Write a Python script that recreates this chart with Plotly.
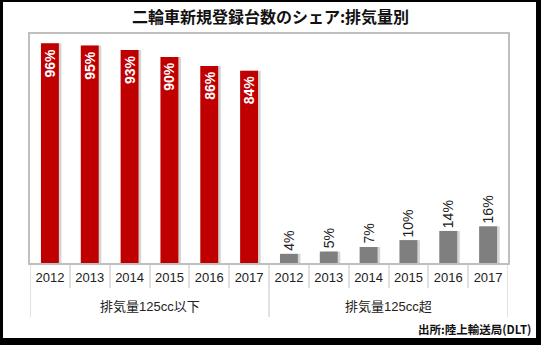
import plotly.graph_objects as go

years = ["2012", "2013", "2014", "2015", "2016", "2017"]
groups = ["排気量125cc以下", "排気量125cc超"]
share_small = [96, 95, 93, 90, 86, 84]
share_large = [4, 5, 7, 10, 14, 16]

title_text = "二輪車新規登録台数のシェア:排気量別"
source_text = "出所:陸上輸送局(DLT)"

W, H = 541, 345
ML, MR, MT, MB = 30, 33, 34, 82
PW, PH = W - ML - MR, H - MT - MB

def px_x(x):
    return (x - ML) / PW

def px_y(y):
    return 1 - (y - MT) / PH

FONT = "Liberation Sans, Arial, Noto Sans CJK JP, sans-serif"
JFONT = "Noto Sans CJK JP, Liberation Sans, sans-serif"

n = len(years)
pos_small = list(range(n))
pos_large = list(range(n, 2 * n))
all_pos = pos_small + pos_large
tick_text = years + years

BW = 0.45
SH = 0.065

fig = go.Figure()
# shadows
for xs, vals in [(pos_small, share_small), (pos_large, share_large)]:
    fig.add_trace(go.Bar(
        x=xs, y=vals, width=BW, offset=-BW / 2 + SH,
        marker=dict(color="#d4d4d4", line=dict(width=0)),
        hoverinfo="skip", showlegend=False,
    ))

fig.add_trace(go.Bar(
    x=pos_small, y=share_small, width=BW, offset=-BW / 2,
    marker=dict(color="#c00000", line=dict(width=0)),
    showlegend=False,
))
fig.add_trace(go.Bar(
    x=pos_large, y=share_large, width=BW, offset=-BW / 2,
    marker=dict(color="#7f7f7f", line=dict(width=0)),
    showlegend=False,
))

annotations = []
for xi, v in zip(pos_small, share_small):
    annotations.append(dict(
        x=xi, y=v, xref="x", yref="y", text=f"{v}%", textangle=-90,
        xanchor="center", yanchor="top", yshift=-3, showarrow=False,
        font=dict(family=FONT, size=14, color="white", weight="bold"),
    ))
for xi, v in zip(pos_large, share_large):
    annotations.append(dict(
        x=xi, y=v, xref="x", yref="y", text=f"{v}%", textangle=-90,
        xanchor="center", yanchor="bottom", yshift=1, showarrow=False,
        font=dict(family=FONT, size=14, color="#222222"),
    ))
# group labels
for g, ps in zip(groups, [pos_small, pos_large]):
    annotations.append(dict(
        x=(ps[0] + ps[-1]) / 2, y=px_y(306), xref="x", yref="paper", text=g,
        xanchor="center", yanchor="middle", showarrow=False,
        font=dict(family=FONT, size=13, color="#222222"),
    ))
annotations.append(dict(
    text=source_text, xref="paper", yref="paper",
    x=px_x(533), y=px_y(329), xanchor="right", yanchor="middle",
    showarrow=False, font=dict(family=JFONT, size=11.5, color="#111111", weight="bold"),
))

shapes = []
# group dividers
for b in [pos_small[0] - 0.5, pos_large[0] - 0.5, pos_large[-1] + 0.5]:
    shapes.append(dict(type="line", xref="x", yref="paper", x0=b, x1=b,
                       y0=px_y(263), y1=px_y(317),
                       line=dict(color="#d9d9d9", width=1.5), layer="below"))
# outer black frame
for x0, y0, x1, y1 in [(0, 0, 3, H), (0, 0, W, 2), (536, 0, W, H), (0, 338, W, H)]:
    shapes.append(dict(type="rect", xref="paper", yref="paper",
                       x0=px_x(x0), x1=px_x(x1), y0=px_y(y1), y1=px_y(y0),
                       fillcolor="black", line=dict(width=0), layer="above"))

fig.update_layout(
    width=W, height=H,
    margin=dict(l=ML, r=MR, t=MT, b=MB),
    paper_bgcolor="white", plot_bgcolor="white",
    barmode="overlay",
    font=dict(family=FONT, size=13, color="#222222"),
    title=dict(text=title_text, x=0.5, xanchor="center", y=1 - 17 / H, yanchor="middle",
               font=dict(family=JFONT, size=16, color="#111111", weight="bold")),
    xaxis=dict(
        range=[all_pos[0] - 0.5, all_pos[-1] + 0.5],
        tickmode="array", tickvals=all_pos, ticktext=tick_text, ticks="",
        ticklabelstandoff=2,
        minor=dict(tickmode="array", tickvals=[p + 0.5 for p in all_pos[:-1]],
                   ticks="outside", ticklen=23, tickcolor="#e0e0e0", tickwidth=1.5,
                   showgrid=False),
        showline=True, linecolor="#bfbfbf", linewidth=1.5, mirror=True,
        tickfont=dict(family=FONT, size=13, color="#222222"),
        showgrid=False, zeroline=False,
    ),
    yaxis=dict(
        range=[0, 100], showticklabels=False, ticks="", showgrid=False,
        zeroline=False, showline=True, linecolor="#bfbfbf", linewidth=1.5, mirror=True,
    ),
    shapes=shapes,
    annotations=annotations,
)

fig.write_html("out.html")
